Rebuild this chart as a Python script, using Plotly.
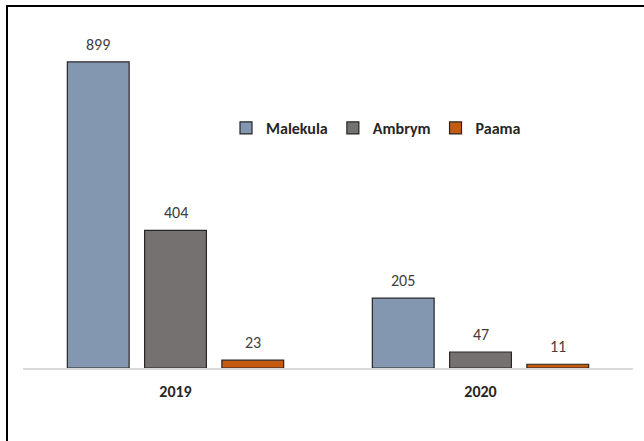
import plotly.graph_objects as go

years = ["2019", "2020"]
series_names = ["Malekula", "Ambrym", "Paama"]
malekula = [899, 205]
ambrym = [404, 47]
paama = [23, 11]
colors = ["#8497B0", "#767171", "#C55A11"]

W, H = 644, 441
ml, mr, mt, mb = 23, 11, 20, 73
FONT = "Carlito, Calibri, Lato, Open Sans, sans-serif"
BARGAP, GROUPGAP = 0.24, 0.2

fig = go.Figure()
all_vals = [malekula, ambrym, paama]
for name, vals, col in zip(series_names, all_vals, colors):
    fig.add_trace(go.Bar(
        name=name, x=years, y=vals,
        marker=dict(color=col, line=dict(color="#262626", width=1.2)),
        cliponaxis=False,
    ))

# value labels placed above each bar via the axis scales
slot = (1 - BARGAP) / len(series_names)
annotations = []
for j, vals in enumerate(all_vals):
    for i, v in enumerate(vals):
        annotations.append(dict(
            x=i + (j - (len(series_names) - 1) / 2) * slot, y=v, xref="x", yref="y",
            text=str(v), showarrow=False, yanchor="bottom", yshift=6,
            font=dict(family=FONT, size=16, color="#404040"),
        ))

pw = W - ml - mr
ph = H - mt - mb
def px_x(p):
    return (p - ml) / pw
def px_y(p):
    return (H - mb - p) / ph

fig.update_layout(
    width=W, height=H,
    margin=dict(l=ml, r=mr, t=mt, b=mb, autoexpand=False),
    paper_bgcolor="white", plot_bgcolor="white",
    barmode="group", bargap=BARGAP, bargroupgap=GROUPGAP,
    showlegend=True,
    legend=dict(orientation="h", x=px_x(226), xanchor="left", y=px_y(128), yanchor="middle",
                font=dict(family=FONT, size=16, color="#262626", weight="bold"),
                itemwidth=30, traceorder="normal", bgcolor="rgba(0,0,0,0)"),
    xaxis=dict(showline=True, linecolor="#D9D9D9", linewidth=1.5, showgrid=False, ticks="",
               tickfont=dict(family=FONT, size=16, color="#262626", weight="bold"),
               ticklabelstandoff=8),
    yaxis=dict(visible=False, range=[0, 1022]),
    annotations=annotations,
    shapes=[dict(type="rect", xref="paper", yref="paper",
                 x0=px_x(7), x1=px_x(650), y0=px_y(6), y1=px_y(450),
                 line=dict(color="black", width=2), fillcolor="rgba(0,0,0,0)", layer="above")],
)

fig.write_html("out.html", config={"displayModeBar": False},
               post_script="document.body.style.margin='0px';document.body.style.overflow='hidden';")
